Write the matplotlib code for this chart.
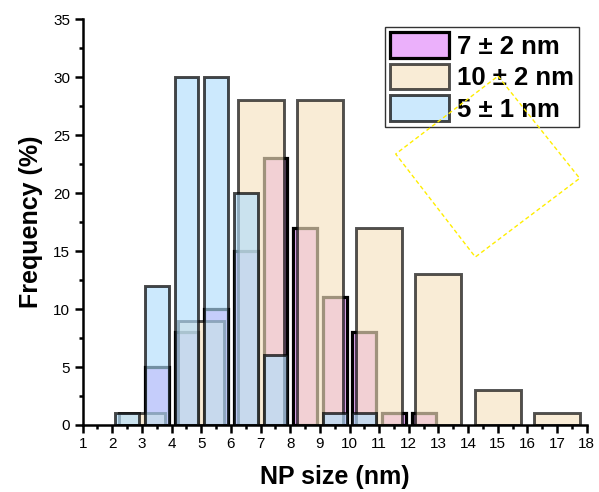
import numpy as np
import matplotlib
matplotlib.use("Agg")
import matplotlib.pyplot as plt
from matplotlib.patches import Polygon
from matplotlib.ticker import MultipleLocator

plt.rcParams['font.family'] = ['Liberation Sans', 'DejaVu Sans']

# 7 +/- 2 nm sample, 1 nm bins
bins_7 = [3.5, 4.5, 5.5, 6.5, 7.5, 8.5, 9.5, 10.5, 11.5, 12.5]
freq_7 = [5, 8, 10, 15, 23, 17, 11, 8, 1, 1]

# 10 +/- 2 nm sample, 2 nm bins
bins_10 = [3, 5, 7, 9, 11, 13, 15, 17]
freq_10 = [1, 9, 28, 28, 17, 13, 3, 1]

# 5 +/- 1 nm sample, 1 nm bins
bins_5 = [2.5, 3.5, 4.5, 5.5, 6.5, 7.5, 9.5, 10.5]
freq_5 = [1, 12, 30, 30, 20, 6, 1, 1]

labels = ['7 ± 2 nm', '10 ± 2 nm', '5 ± 1 nm']

fig = plt.figure(figsize=(5.99, 4.92), dpi=100)
ax = fig.add_axes([0.138, 0.1362, 0.8415, 0.8246])

# semi transparent faces and edges, drawn bottom to top
b7 = ax.bar(bins_7, freq_7, width=0.8, color='#ebb0fb', edgecolor='black',
            linewidth=2.3, zorder=1, label=labels[0])
b10 = ax.bar(bins_10, freq_10, width=1.55, color=(246/255, 226/255, 192/255, 0.65),
             edgecolor=(0, 0, 0, 0.68), linewidth=2.1, zorder=2, label=labels[1])
b5 = ax.bar(bins_5, freq_5, width=0.8, color=(177/255, 222/255, 252/255, 0.65),
            edgecolor=(0, 0, 0, 0.72), linewidth=2.1, zorder=3, label=labels[2])

# stray dashed box left in the original figure
sq = Polygon([[0.824, 0.860], [0.986, 0.608], [0.779, 0.414], [0.621, 0.668]],
             closed=True, fill=False, edgecolor='#ffee00', linestyle=(0, (3, 2)),
             linewidth=1.0, transform=ax.transAxes, zorder=7)
ax.add_patch(sq)

ax.set_xlim(1, 18)
ax.set_ylim(0, 35)
ax.set_xticks(np.arange(1, 19))
ax.set_yticks(np.arange(0, 36, 5))
ax.xaxis.set_minor_locator(MultipleLocator(0.5))
ax.yaxis.set_minor_locator(MultipleLocator(2.5))

for s in ['top', 'right']:
    ax.spines[s].set_visible(False)
for s in ['left', 'bottom']:
    ax.spines[s].set_linewidth(1.8)
    ax.spines[s].set_zorder(5)

ax.tick_params(which='major', direction='out', length=5.5, width=1.8,
               labelsize=11, pad=3.5)
ax.tick_params(which='minor', direction='out', length=3, width=1.8)

ax.set_xlabel('NP size (nm)', fontsize=18, fontweight='bold', labelpad=10)
ax.set_ylabel('Frequency (%)', fontsize=18, fontweight='bold', labelpad=7)

leg = ax.legend(handles=[b7, b10, b5], loc='upper right',
                prop={'size': 18.5, 'weight': 'bold'},
                handlelength=2.3, handleheight=1.15, handletextpad=0.3,
                labelspacing=0.2, borderpad=0.2, borderaxespad=0.3,
                fancybox=False, framealpha=1)
leg.get_frame().set_edgecolor('#333333')
leg.get_frame().set_linewidth(1.0)
leg.set_zorder(6)

fig.savefig('out.png', dpi=100)
